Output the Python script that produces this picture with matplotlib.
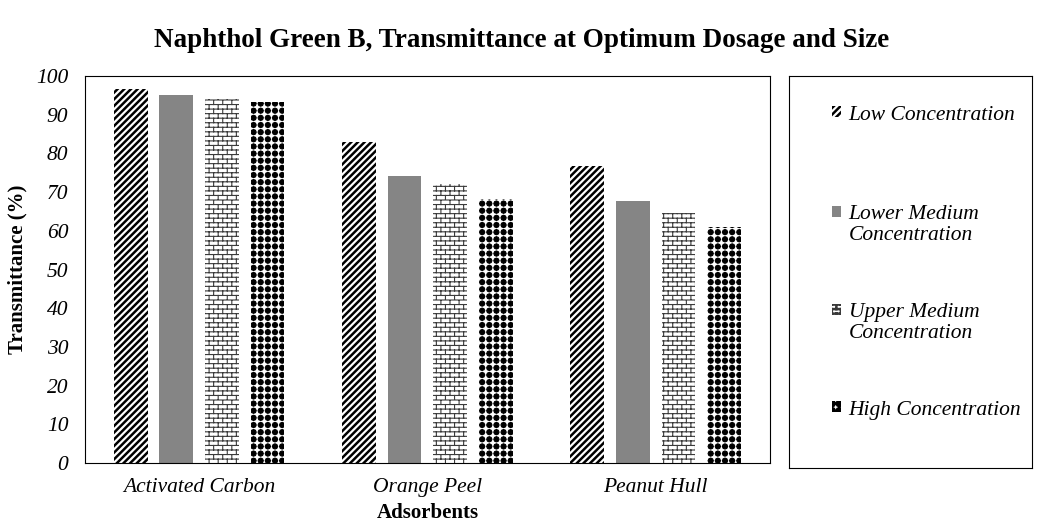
import numpy as np
import matplotlib.pyplot as plt
from matplotlib import hatch as mhatch
from matplotlib.path import Path
from matplotlib.patches import Rectangle
from matplotlib.legend_handler import HandlerPatch

plt.rcParams['font.family'] = ['Liberation Serif', 'DejaVu Serif']
plt.rcParams['hatch.linewidth'] = 1.8

categories = ['Activated Carbon', 'Orange Peel', 'Peanut Hull']
series = ['Low Concentration', 'Lower Medium\nConcentration',
          'Upper Medium\nConcentration', 'High Concentration']
low = [96.7, 83.0, 76.8]
lower_med = [95.2, 74.2, 67.7]
upper_med = [94.0, 72.1, 64.6]
high = [93.4, 68.2, 61.0]


# кирпичная штриховка ('b')
class BrickHatch(mhatch.HatchPatternBase):
    def __init__(self, hatch, density):
        n = hatch.count('b')
        self.rows = 22 * n
        self.cols = 11 * n
        self.num_vertices = ((self.rows + 1) * 2 + self.rows * self.cols * 2) if n else 0

    def set_vertices_and_codes(self, vertices, codes):
        pts = []
        for k in range(self.rows + 1):
            y = k / self.rows
            pts += [(0, y), (1, y)]
        for k in range(self.rows):
            y0 = k / self.rows
            y1 = (k + 1) / self.rows
            sh = 0.5 * (k % 2)
            for j in range(self.cols):
                xx = (j + sh) / self.cols
                pts += [(xx, y0), (xx, y1)]
        vertices[:] = pts
        codes[0::2] = Path.MOVETO
        codes[1::2] = Path.LINETO


# точки на квадратной сетке ('d')
class DotHatch(mhatch.HatchPatternBase):
    def __init__(self, hatch, density):
        n = hatch.count('d')
        self.n = 14 * n
        self.filled = True
        self.num_vertices = self.n * self.n * 9 if n else 0

    def set_vertices_and_codes(self, vertices, codes):
        c = 1.0 / self.n
        r = 0.37 * c
        ang = np.pi / 2 + np.arange(8) * np.pi / 4
        pts = []
        cds = []
        for i in range(self.n):
            for j in range(self.n):
                cx = (i + 0.5) * c
                cy = (j + 0.5) * c
                pts += [(cx + r * np.cos(a), cy + r * np.sin(a)) for a in ang]
                pts.append((cx + r * np.cos(ang[0]), cy + r * np.sin(ang[0])))
                cds += [Path.MOVETO] + [Path.LINETO] * 7 + [Path.CLOSEPOLY]
        vertices[:] = pts
        codes[:] = cds


mhatch._hatch_types.append(BrickHatch)
mhatch._hatch_types.append(DotHatch)

values = [low, lower_med, upper_med, high]
faces = ['white', '#858585', 'white', 'white']
hatches = ['/////', '', 'b', 'd']
hcolors = ['black', '#858585', '#3a3a3a', 'black']
hlw = [1.8, 1.0, 0.8, 0.8]

fig = plt.figure(figsize=(10.43, 5.23), dpi=100)
ax = fig.add_axes([0.0815, 0.1147, 0.6565, 0.74])

x = np.arange(len(categories))
w = 0.148
offs = [-0.3, -0.1, 0.1, 0.3]
bars = []
for i in range(4):
    b = ax.bar(x + offs[i], values[i], w, color=faces[i], hatch=hatches[i],
               edgecolor=hcolors[i], linewidth=0)
    for p in b:
        if hasattr(p, 'set_hatch_linewidth'):
            p.set_hatch_linewidth(hlw[i])
    bars.append(b)

ax.set_xlim(-0.5, 2.5)
ax.set_ylim(0, 100)
ax.set_yticks(np.arange(0, 101, 10))
ax.set_xticks(x)
ax.set_xticklabels(categories, fontsize=15.5, style='italic')
ax.tick_params(axis='y', labelsize=15.5, length=0, pad=12)
ax.tick_params(axis='x', length=0, pad=11)
for lab in ax.get_yticklabels():
    lab.set_style('italic')
for s in ax.spines.values():
    s.set_linewidth(0.8)
ax.set_ylabel('Transmittance (%)', fontsize=15, fontweight='bold', labelpad=6)
ax.set_xlabel('Adsorbents', fontsize=15, fontweight='bold', labelpad=4)

fig.text(0.5, 0.923, 'Naphthol Green B, Transmittance at Optimum Dosage and Size',
         fontsize=19.5, fontweight='bold', ha='center', va='center')

lax = fig.add_axes([0.7565, 0.105, 0.233, 0.7497])
lax.set_xticks([])
lax.set_yticks([])
for s in lax.spines.values():
    s.set_linewidth(0.8)


class TopHandler(HandlerPatch):
    def __init__(self, shift=0.0):
        super().__init__()
        self.shift = shift

    def create_artists(self, legend, orig_handle, xdescent, ydescent,
                       width, height, fontsize, trans):
        p = Rectangle((-xdescent, -ydescent + self.shift * fontsize), width, height)
        self.update_prop(p, orig_handle, legend)
        p.set_transform(trans)
        return [p]


ypos = [0.9005, 0.620, 0.370, 0.148]
for i in range(4):
    sh = 0.58 if '\n' in series[i] else 0.0
    leg = lax.legend([bars[i][0]], [series[i]], loc='center left',
                     bbox_to_anchor=(0.177, ypos[i]), frameon=False,
                     prop={'size': 15.5, 'style': 'italic'},
                     handlelength=0.4, handleheight=0.4, handletextpad=0.37,
                     borderpad=0, borderaxespad=0,
                     handler_map={bars[i][0]: TopHandler(sh)})
    lax.add_artist(leg)
lax.legend_ = None

fig.savefig('out.png', dpi=100)
